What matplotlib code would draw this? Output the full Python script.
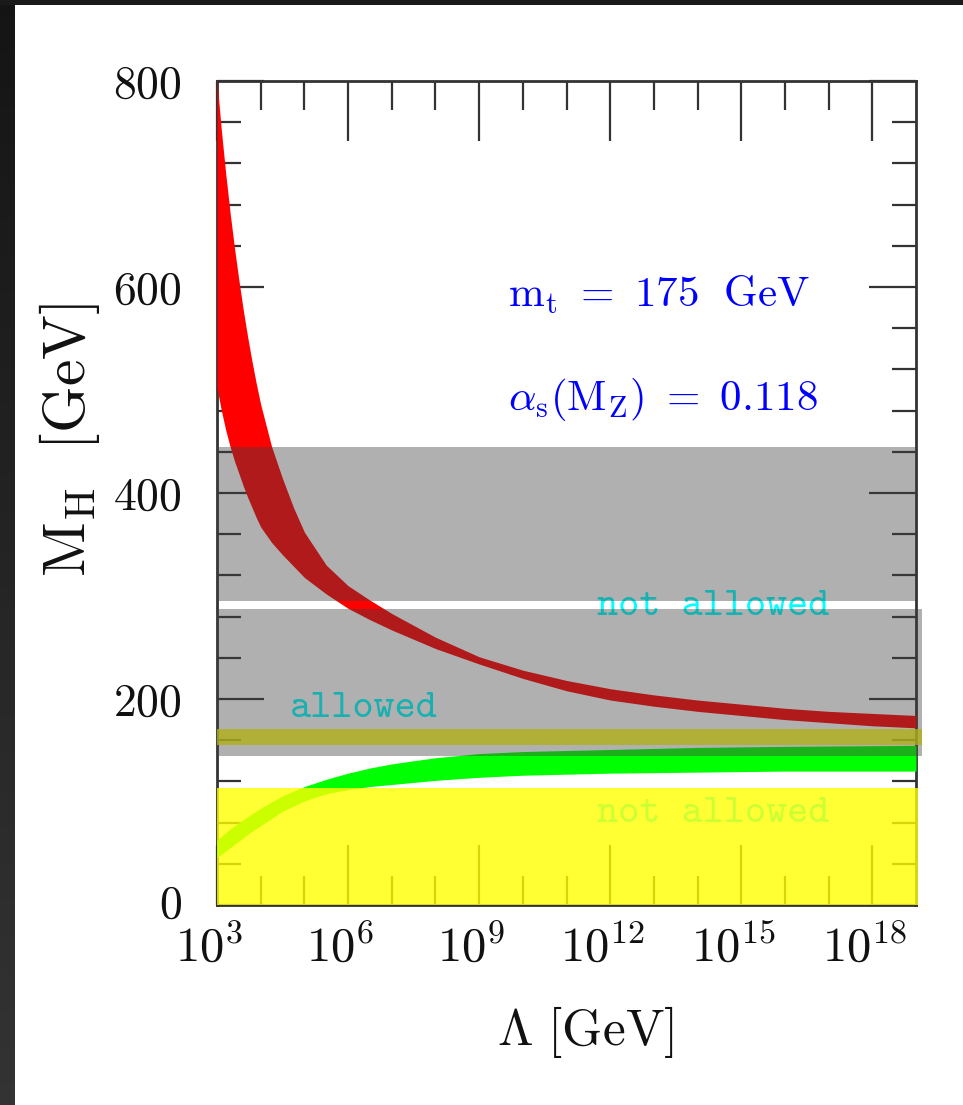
import numpy as np
import matplotlib
matplotlib.use("Agg")
import matplotlib.pyplot as plt
from matplotlib.patches import Rectangle
from matplotlib.transforms import ScaledTranslation
from matplotlib.ticker import FixedLocator, FuncFormatter, MultipleLocator, NullFormatter

plt.rcParams['mathtext.fontset'] = 'cm'
plt.rcParams['font.family'] = ['cmr10', 'DejaVu Serif']
plt.rcParams['axes.unicode_minus'] = False
plt.rcParams['axes.formatter.use_mathtext'] = True

# ---------------- data ----------------
# triviality (upper) bound band, red
red_log10_lambda = [3.0, 3.1, 3.2, 3.3, 3.4, 3.5, 3.6, 3.7, 3.8, 3.9, 4.0, 4.25, 4.5, 4.75,
                    5.0, 5.5, 6.0, 6.5, 7.0, 8.0, 9.0, 10.0, 11.0, 12.0, 13.0, 14.0,
                    15.0, 16.0, 17.0, 18.0, 19.0]
red_upper = [800, 752, 710, 672, 638, 607, 578, 552, 528, 506, 486, 445, 414, 386,
             362, 330, 310, 296, 283, 260, 241, 228, 218, 210, 204, 199,
             195, 191, 188, 186, 184]
red_lower = [502, 480, 461, 445, 431, 419, 407, 396, 386, 376, 367, 352, 340, 329,
             318, 302, 288, 277, 267, 249, 234, 220, 208, 199, 193, 188,
             184, 180, 177, 174, 172]

# vacuum stability (lower) bound band, green
green_log10_lambda = [3.0, 3.25, 3.5, 3.75, 4.0, 4.5, 5.0, 5.5, 6.0, 6.5, 7.0, 8.0,
                      9.0, 10.0, 11.0, 12.0, 14.0, 16.0, 19.0]
green_upper = [63, 72, 80, 87, 94, 106, 115, 122, 128, 133, 137, 143,
               147, 149, 150, 151, 153, 154, 155]
green_lower = [46, 54, 62, 70, 77, 91, 101, 108, 112, 115, 117, 121,
               124, 126, 127, 128, 129, 130, 130]

# horizontal shaded regions [MH_low, MH_high]
yellow_excluded = [0, 114]
yellow_strip = [155, 171]
gray_upper = [295, 445]
gray_lower = [145, 287]

x_major_exponents = [3, 6, 9, 12, 15, 18]
x_minor_exponents = [4, 5, 7, 8, 10, 11, 13, 14, 16, 17]
y_major = [0, 200, 400, 600, 800]

# ---------------- figure ----------------
W, H = 963, 1105
fig = plt.figure(figsize=(W / 100, H / 100), dpi=100)
fig.patch.set_facecolor('white')
n_strip = 60
for i in range(n_strip):
    g = 0.08 + 0.12 * i / (n_strip - 1)
    fig.patches.append(Rectangle((0, 1 - (i + 1) / n_strip), 15 / W, 1 / n_strip + 0.002,
                                 transform=fig.transFigure, facecolor=(g, g, g),
                                 edgecolor='none', zorder=0))
fig.patches.append(Rectangle((0, 1 - 5 / H), 1, 5 / H, transform=fig.transFigure,
                             facecolor='#1a1a1a', edgecolor='none', zorder=0))

L, R, T, B = 217, 916, 81, 905
ax = fig.add_axes([L / W, 1 - B / H, (R - L) / W, (B - T) / H])
ax.set_xscale('log')
ax.set_xlim(1e3, 1e19)
ax.set_ylim(0, 800)
ax.set_axisbelow(True)

lam_r = 10.0 ** np.array(red_log10_lambda)
lam_g = 10.0 ** np.array(green_log10_lambda)
ax.fill_between(lam_r, red_lower, red_upper, color='#ff0000', lw=0, zorder=1)
ax.fill_between(lam_g, green_lower, green_upper, color='#00ff00', lw=0, zorder=1)

# cyan labels (lie under the shading)
txt_kw = dict(family='cmtt10', color='#00ffff', fontsize=29,
              va='baseline', ha='left', zorder=1.5)
ax.text(10 ** 11.70, 281.5, 'not allowed', **txt_kw)
ax.text(10 ** 4.67, 182.8, 'allowed', **txt_kw)
ax.text(10 ** 11.70, 80.6, 'not allowed', **txt_kw)

x_ext = 10 ** 19.14
ax.add_patch(Rectangle((1e3, yellow_excluded[0]), 10 ** 19.04 - 1e3,
                       yellow_excluded[1] - yellow_excluded[0],
                       facecolor=(1, 1, 0), alpha=0.8, lw=0, zorder=2, clip_on=False))
ax.add_patch(Rectangle((1e3, yellow_strip[0]), x_ext - 1e3,
                       yellow_strip[1] - yellow_strip[0],
                       facecolor=(1, 1, 0), alpha=0.8, lw=0, zorder=2, clip_on=False))
ax.add_patch(Rectangle((1e3, gray_upper[0]), 1e19 - 1e3,
                       gray_upper[1] - gray_upper[0],
                       facecolor=(0.25, 0.25, 0.25), alpha=0.41, lw=0, zorder=2.1))
ax.add_patch(Rectangle((1e3, gray_lower[0]), x_ext - 1e3,
                       gray_lower[1] - gray_lower[0],
                       facecolor=(0.25, 0.25, 0.25), alpha=0.41, lw=0, zorder=2.1,
                       clip_on=False))

# blue parameter text
ax.text(10 ** 9.66, 581, r'$\mathrm{m_t\ =\ 175\ \ GeV}$', color='#0000ff',
        fontsize=31, va='baseline', ha='left', zorder=3)
ax.text(10 ** 9.66, 480.5, r'$\alpha_\mathrm{s}(\mathrm{M_Z})\ =\ 0.118$', color='#0000ff',
        fontsize=31, va='baseline', ha='left', zorder=3)

# ticks
ax.xaxis.set_major_locator(FixedLocator([10.0 ** k for k in x_major_exponents]))
ax.xaxis.set_minor_locator(FixedLocator([10.0 ** k for k in x_minor_exponents]))
ax.xaxis.set_major_formatter(FuncFormatter(lambda v, p: r'$10^{%d}$' % int(round(np.log10(v)))))
ax.xaxis.set_minor_formatter(NullFormatter())
ax.yaxis.set_major_locator(FixedLocator(y_major))
ax.yaxis.set_minor_locator(MultipleLocator(40))
ax.yaxis.set_major_formatter(FuncFormatter(lambda v, p: r'$%d$' % v))

ax.tick_params(which='both', direction='in', top=True, right=True,
               color='#333333', width=1.6, labelcolor='#111111')
ax.tick_params(axis='x', which='major', length=43, pad=15, labelsize=35)
ax.tick_params(axis='x', which='minor', length=21)
ax.tick_params(axis='y', which='major', length=34, pad=25, labelsize=33)
ax.tick_params(axis='y', which='minor', length=17)

for s in ax.spines.values():
    s.set_linewidth(2)
    s.set_color('#333333')
    s.set_zorder(0.6)

shift = ScaledTranslation(-8 / 100, 0, fig.dpi_scale_trans)
for tk in ax.xaxis.get_major_ticks():
    tk.label1.set_transform(tk.label1.get_transform() + shift)
yshift = ScaledTranslation(0, 4 / 100, fig.dpi_scale_trans)
for tk in ax.yaxis.get_major_ticks()[:1]:
    tk.label1.set_transform(tk.label1.get_transform() + yshift)

fig.text(70 / W, 1 - 440 / H, r'$\mathrm{M_H\ \ [GeV]}$', rotation=90,
         fontsize=43, ha='center', va='center', color='#111111')
fig.text(585 / W, 1 - 1032 / H, r'$\Lambda\ [\mathrm{GeV}]$',
         fontsize=37, ha='center', va='center', color='#111111')

fig.savefig('out.png', dpi=100, facecolor=fig.get_facecolor())
